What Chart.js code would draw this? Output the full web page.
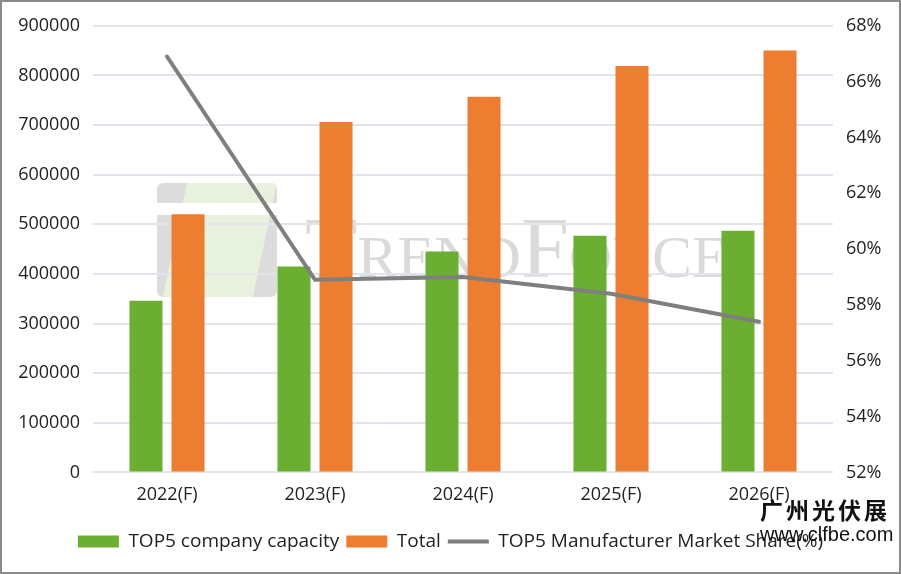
<!DOCTYPE html>
<html>
<head>
<meta charset="utf-8">
<title>TOP5 capacity</title>
<script src="https://cdn.jsdelivr.net/npm/chart.js"></script>
<style>
  body { margin: 0; background: #fff; }
  #frame { position: absolute; left: 0; top: 0; width: 897px; height: 570px; border: 2px solid #8a8a8a; background: #fff; overflow: hidden; }
  #frame canvas { position: absolute; left: 0; top: 0; }
  .wm { position: absolute; color: #dadada; font-family: "Liberation Serif", serif; white-space: nowrap; }
  #logo { position: absolute; left: 155px; top: 181px; width: 120px; height: 114px; border-radius: 6px; background: #dcdcdc; overflow: hidden; }
  #logo .g { position: absolute; left: 30px; top: 0; width: 90px; height: 114px; background: #e8f0de; transform: skewX(-12deg); transform-origin: top left; }
  #logo .w { position: absolute; left: 0; top: 20px; width: 120px; height: 12px; background: #fff; }
  #expo { position: absolute; left: 758px; top: 493px; z-index: 2; text-align: left; }
  #expo .cn { font-family: "Noto Sans CJK SC", sans-serif; font-weight: bold; font-size: 23px; letter-spacing: 3px; color: #111; line-height: 28px; }
  #expo .url { font-family: "Liberation Sans", sans-serif; font-size: 20px; color: #111; line-height: 22px; }
</style>
</head>
<body>
<div id="frame">
  <div id="logo"><div class="g"></div><div class="w"></div></div>
  <div class="wm" style="left:303px;top:196px;font-size:86px;">T<span style="font-size:60px">REND</span>F<span style="font-size:60px">ORCE</span></div>
  <canvas id="chart" width="897" height="570"></canvas>
  <div id="expo"><div class="cn">广州光伏展</div><div class="url">www.clfbe.com</div></div>
</div>
<script>
  // 数据
  var years = ['2022(F)', '2023(F)', '2024(F)', '2025(F)', '2026(F)'];
  var top5Capacity = [346000, 415000, 445000, 477000, 487000];
  var totalCapacity = [520000, 706000, 757000, 819000, 850000];
  var top5Share = [66.9, 58.9, 59.0, 58.4, 57.4];

  var tickFont = { family: 'Open Sans', size: 18 };
  var legendFont = { family: 'Open Sans', size: 19 };
  var gridColor = '#e1e4ea';

  var ctx = document.getElementById('chart').getContext('2d');
  new Chart(ctx, {
    type: 'bar',
    data: {
      labels: years,
      datasets: [
        {
          label: 'TOP5 company capacity',
          data: top5Capacity,
          backgroundColor: '#6aaf31',
          yAxisID: 'y',
          order: 1,
          categoryPercentage: 0.568,
          barPercentage: 0.786
        },
        {
          label: 'Total',
          data: totalCapacity,
          backgroundColor: '#ed7d31',
          yAxisID: 'y',
          order: 1,
          categoryPercentage: 0.568,
          barPercentage: 0.786
        },
        {
          type: 'line',
          label: 'TOP5 Manufacturer Market Share(%)',
          data: top5Share,
          borderColor: '#7f7f7f',
          backgroundColor: '#7f7f7f',
          borderWidth: 4,
          borderCapStyle: 'round',
          pointRadius: 0,
          pointStyle: 'line',
          tension: 0,
          yAxisID: 'y1',
          order: 0
        }
      ]
    },
    options: {
      responsive: false,
      animation: false,
      layout: { padding: { top: 22, bottom: 11 } },
      plugins: {
        tooltip: { enabled: false },
        legend: {
          position: 'bottom',
          labels: {
            usePointStyle: true,
            pointStyleWidth: 41,
            boxHeight: 12,
            padding: 7,
            color: '#222',
            font: legendFont,
            sort: function(a, b) { return a.datasetIndex - b.datasetIndex; },
            generateLabels: function(chart) {
              var items = Chart.defaults.plugins.legend.labels.generateLabels(chart);
              items.forEach(function(it) {
                it.pointStyle = it.datasetIndex === 2 ? 'line' : 'rect';
                if (it.datasetIndex < 2) it.lineWidth = 0;
              });
              return items;
            }
          }
        }
      },
      scales: {
        x: {
          afterFit: function(s) { s.height += 7; },
          grid: { display: false, drawTicks: false },
          border: { display: false },
          ticks: { color: '#222', font: tickFont, padding: 12 }
        },
        y: {
          position: 'left',
          min: 0,
          max: 900000,
          afterFit: function(s) { s.width = 91; },
          grid: { color: gridColor, lineWidth: 2, drawTicks: false },
          border: { display: false },
          ticks: {
            stepSize: 100000,
            color: '#222',
            font: tickFont,
            padding: 13,
            callback: function(v) { return String(v); }
          }
        },
        y1: {
          position: 'right',
          min: 52,
          max: 68,
          afterFit: function(s) { s.width = 66; },
          grid: { display: false, drawTicks: false },
          border: { display: false },
          ticks: {
            stepSize: 2,
            color: '#222',
            font: tickFont,
            padding: 13,
            callback: function(v) { return v + '%'; }
          }
        }
      }
    }
  });
</script>
</body>
</html>
